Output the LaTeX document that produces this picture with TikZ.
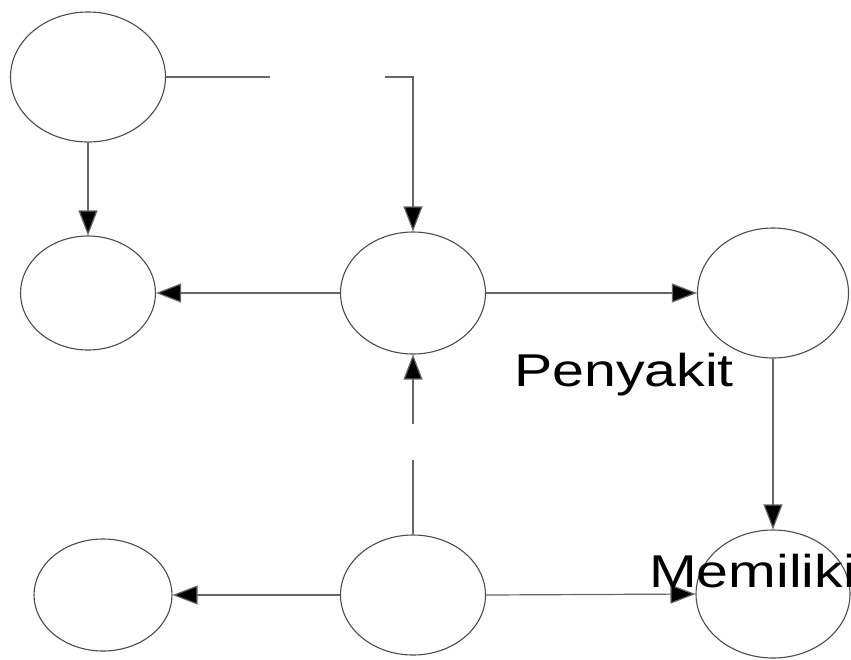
\documentclass[tikz,border=0pt]{standalone}
\usepackage{fontspec}
\setmainfont{Liberation Sans}
\usetikzlibrary{shapes.geometric,arrows.meta}
\begin{document}
\begin{tikzpicture}[x=1pt,y=-1pt,
  oval/.style={draw=black!70,line width=1.1pt,ellipse,inner sep=0pt,fill=white},
  conn/.style={draw=black!60,line width=1.2pt},
  arr/.style={conn,-{Triangle[length=25pt,width=19pt,fill=black]}},
  lbl/.style={inner sep=0pt,anchor=base west,xscale=1.245,font=\fontsize{46}{50}\selectfont}]
\useasboundingbox (0,0) rectangle (851,659);
\node[oval,minimum width=155pt,minimum height=130pt] (A) at (88,77) {};
\node[oval,minimum width=135pt,minimum height=114pt] (B) at (88,293) {};
\node[oval,minimum width=145pt,minimum height=122pt] (C) at (413,293) {};
\node[oval,minimum width=151pt,minimum height=130pt] (D) at (773,293) {};
\node[oval,minimum width=154pt,minimum height=128pt] (G) at (773,594) {};
\node[oval,minimum width=138pt,minimum height=112pt] (E) at (103,595) {};
\node[oval,minimum width=145pt,minimum height=120pt] (F) at (413,595) {};
\coordinate (a1) at (270,77);
\coordinate (a2) at (385,77);
\coordinate (f1) at (413,460);
\coordinate (f2) at (413,424);
\draw[conn] (A.east) -- (a1);
\draw[arr] (a2) -| (C.north);
\draw[arr] (A.south) -- (B.north);
\draw[arr] (C.west) -- (B.east);
\draw[arr] (C.east) -- (D.west);
\draw[arr] (D.south) -- (G.north);
\draw[conn] (F.north) -- (f1);
\draw[arr] (f2) -- (C.south);
\draw[arr] (F.west) -- (E.east);
\draw[arr] (F.east) -- (G.west);
\node[lbl] (P) at (514,386) {Penyakit};
\node[lbl] (M) at (649,587) {Memiliki};
\end{tikzpicture}
\end{document}
